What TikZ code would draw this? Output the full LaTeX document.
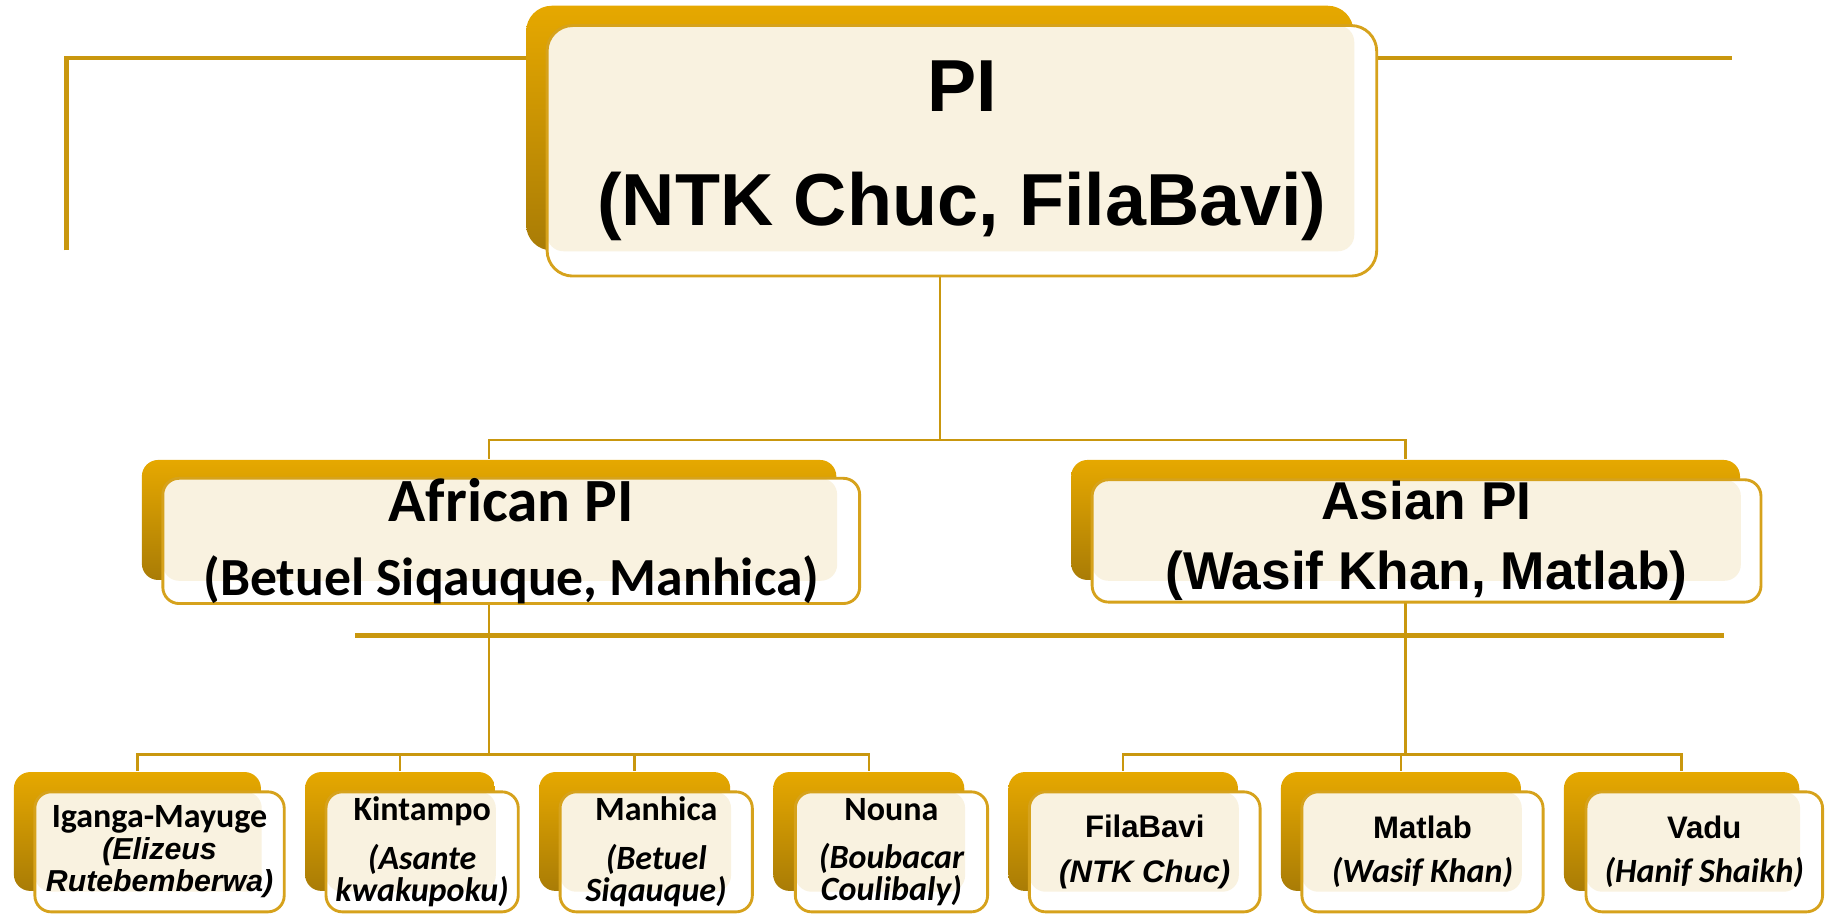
\documentclass[tikz,border=0pt]{standalone}
\usepackage{fontspec}
\setmainfont{Liberation Sans}
\newfontfamily\calfont{Carlito}
\usetikzlibrary{backgrounds}

\definecolor{gold}{HTML}{E6A800}
\definecolor{golddark}{HTML}{A97C06}
\definecolor{linegold}{HTML}{C9970E}
\definecolor{edgegold}{HTML}{D6A21C}
\definecolor{cream}{HTML}{F9F2E0}

\tikzset{
  backbox/.style={rounded corners=0.14cm, top color=gold, bottom color=golddark, inner sep=0pt},
  frontbox/.style={rounded corners=0.14cm, draw=edgegold, line width=0.7pt, fill=white,
    align=center, inner sep=0pt,
    path picture={\fill[cream, rounded corners=0.14cm] (path picture bounding box.north west) rectangle (#1.south east);}},
  conn/.style={draw=linegold, line width=0.6pt},
  deco/.style={draw=linegold, line width=1.1pt},
  smallcal/.style={font=\calfont\bfseries\fontsize{8.3}{7.8}\selectfont},
  smallar/.style={font=\bfseries\fontsize{7.6}{7.8}\selectfont}
}
\newcommand{\arit}{\normalfont\bfseries\itshape\fontsize{7.4}{7.8}\selectfont}
\newcommand{\calit}{\calfont\bfseries\itshape\fontsize{8.3}{7.8}\selectfont}

\begin{document}
\begin{tikzpicture}[x=0.01cm,y=-0.01cm]
  \useasboundingbox (0,0) rectangle (1568,785);

  % top level
  \node[backbox, rounded corners=0.22cm, minimum width=7.10cm, minimum height=2.10cm] (piback) at (807,110) {};
  \node[frontbox=piback, rounded corners=0.22cm, minimum width=7.12cm, minimum height=2.15cm,
    font=\bfseries\fontsize{18}{28}\selectfont] (pi) at (826,129.5) {PI\\(NTK Chuc, FilaBavi)};

  % regional PIs
  \node[backbox, minimum width=5.96cm, minimum height=1.03cm] (afback) at (420,446.5) {};
  \node[frontbox=afback, minimum width=5.98cm, minimum height=1.05cm,
    font=\calfont\bfseries\fontsize{13.1}{18}\selectfont] (af) at (439,464.5)
    {\fontsize{15}{18}\selectfont African PI\\(Betuel Siqauque, Manhica)};
  \node[backbox, minimum width=5.74cm, minimum height=1.03cm] (asback) at (1207,446.5) {};
  \node[frontbox=asback, minimum width=5.74cm, minimum height=1.05cm,
    font=\bfseries\fontsize{13}{17}\selectfont] (as) at (1225,464.5) {Asian PI\\(Wasif Khan, Matlab)};

  % sites
  \node[backbox, minimum width=2.12cm, minimum height=1.02cm] (igback) at (118,714) {};
  \node[frontbox=igback, minimum width=2.14cm, minimum height=1.03cm, smallcal] (ig) at (137,731.5)
    {Iganga-Mayuge\\\arit(Elizeus\\\arit Rutebemberwa)};
  \node[backbox, minimum width=1.63cm, minimum height=1.02cm] (kiback) at (343.5,714) {};
  \node[frontbox=kiback, minimum width=1.65cm, minimum height=1.03cm, smallcal] (ki) at (362.5,731.5)
    {Kintampo\\[4pt]\calit(Asante\\\calit kwakupoku)};
  \node[backbox, minimum width=1.64cm, minimum height=1.02cm] (maback) at (545,714) {};
  \node[frontbox=maback, minimum width=1.65cm, minimum height=1.03cm, smallcal] (ma) at (563.5,731.5)
    {Manhica\\[4pt]\calit(Betuel\\\calit Siqauque)};
  \node[backbox, minimum width=1.64cm, minimum height=1.02cm] (noback) at (746,714) {};
  \node[frontbox=noback, minimum width=1.65cm, minimum height=1.03cm, smallcal] (no) at (765.5,731.5)
    {Nouna\\[4pt]\calit(Boubacar\\\calit Coulibaly)};
  \node[backbox, minimum width=1.97cm, minimum height=1.02cm] (fiback) at (964.5,714) {};
  \node[frontbox=fiback, minimum width=1.98cm, minimum height=1.03cm, smallar] (fi) at (983,731.5)
    {FilaBavi\\[3pt]\itshape(NTK Chuc)};
  \node[backbox, minimum width=2.06cm, minimum height=1.02cm] (mtback) at (1203,714) {};
  \node[frontbox=mtback, minimum width=2.07cm, minimum height=1.03cm, smallar] (mt) at (1221.5,731.5)
    {Matlab\\[3pt]\calit(Wasif Khan)};
  \node[backbox, minimum width=2.02cm, minimum height=1.02cm] (vaback) at (1444,714) {};
  \node[frontbox=vaback, minimum width=2.03cm, minimum height=1.03cm, smallar] (va) at (1463.5,731.5)
    {Vadu\\[3pt]\calit(Hanif Shaikh)};

  \coordinate (bus1) at (0,378);
  \coordinate (bus2) at (0,648);

  \begin{pgfonlayer}{background}
    \draw[deco] (57,215) -- (57,50) -- (1487,50);
    \foreach \c in {afback,asback}
      \draw[conn] (piback) -- (piback |- bus1) -| (\c.north);
    \foreach \c in {igback,kiback,maback,noback}
      \draw[conn] (afback) -- (afback |- bus2) -| (\c.north);
    \foreach \c in {fiback,mtback,vaback}
      \draw[conn] (asback) -- (asback |- bus2) -| (\c.north);
  \end{pgfonlayer}
  \draw[deco, line width=1.3pt] (305,546) -- (1480,546);
\end{tikzpicture}
\end{document}
